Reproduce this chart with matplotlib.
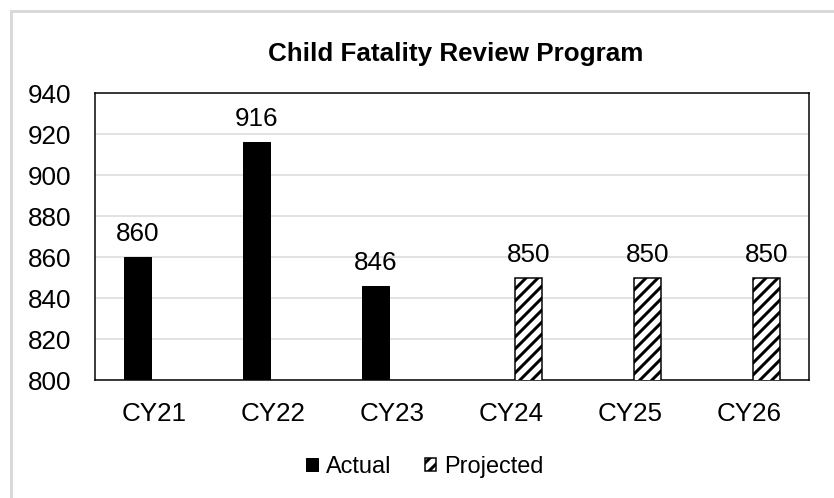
import numpy as np
import matplotlib.pyplot as plt
from matplotlib.patches import Rectangle, Patch

plt.rcParams['font.family'] = ['Liberation Sans', 'DejaVu Sans']
plt.rcParams['hatch.linewidth'] = 3.0

categories = ["CY21", "CY22", "CY23", "CY24", "CY25", "CY26"]
actual = [860, 916, 846, np.nan, np.nan, np.nan]
projected = [np.nan, np.nan, np.nan, 850, 850, 850]

# dpi 72 so one point is one pixel (and hatch tile is 72 px)
fig = plt.figure(figsize=(834 / 72, 498 / 72), dpi=72)
ax = fig.add_axes([95 / 834, 1 - 380 / 498, 714 / 834, 287 / 498])

x = np.arange(len(categories))
w = 0.22
off = 0.143

ax.bar(x - off, actual, w, color='black', edgecolor='black', zorder=3)
ax.bar(x + off, projected, w, color='white', edgecolor='black',
       hatch='//', linewidth=1.5, zorder=3)

for xi, v in zip(x - off, actual):
    if not np.isnan(v):
        ax.annotate(f"{v:.0f}", (xi, v), xytext=(0, 11), textcoords='offset points',
                    ha='center', va='bottom', fontsize=26)
for xi, v in zip(x + off, projected):
    if not np.isnan(v):
        ax.annotate(f"{v:.0f}", (xi, v), xytext=(0, 11), textcoords='offset points',
                    ha='center', va='bottom', fontsize=26)

ax.set_xlim(-0.5, len(categories) - 0.5)
ax.set_ylim(800, 940)
ax.set_yticks(np.arange(800, 941, 20))
ax.set_xticks(x)
ax.set_xticklabels(categories)
ax.tick_params(axis='both', length=0, labelsize=26)
ax.tick_params(axis='y', pad=24)
ax.tick_params(axis='x', pad=22)
ax.grid(axis='y', color='#d9d9d9', linewidth=1.5, zorder=0)
ax.set_axisbelow(True)
for s in ax.spines.values():
    s.set_linewidth(1.5)
    s.set_color('black')

fig.text(456 / 834, 1 - 61 / 498, "Child Fatality Review Program",
         ha='center', va='baseline', fontsize=26, fontweight='bold')

handles = [Patch(facecolor='black', edgecolor='black'),
           Patch(facecolor='white', edgecolor='black', hatch='//', linewidth=1.5)]
fig.legend(handles, ["Actual", "Projected"], loc='center', ncol=2, frameon=False,
           bbox_to_anchor=(425 / 834, 1 - 467 / 498), fontsize=23.5,
           handlelength=0.5, handleheight=0.5, handletextpad=0.35, columnspacing=1.4)

# light grey chart border (only left and top edges visible in the image)
fig.patches.append(Rectangle((10.5 / 834, -0.2), 2, 1.2 - 10.5 / 498,
                             transform=fig.transFigure, fill=False,
                             edgecolor='#d9d9d9', linewidth=3, clip_on=False))

fig.savefig('out.png', dpi=72, facecolor='white')
